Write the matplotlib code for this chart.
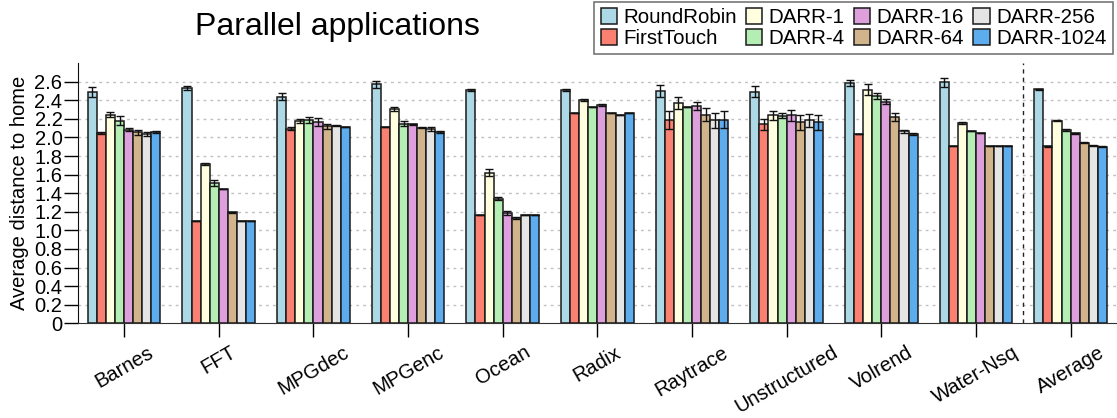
import matplotlib
matplotlib.use("Agg")
import matplotlib.pyplot as plt
import numpy as np

plt.rcParams['font.family'] = ['Liberation Sans', 'DejaVu Sans']

apps = ["Barnes", "FFT", "MPGdec", "MPGenc", "Ocean", "Radix", "Raytrace",
        "Unstructured", "Volrend", "Water-Nsq", "Average"]
policies = ["RoundRobin", "FirstTouch", "DARR-1", "DARR-4",
            "DARR-16", "DARR-64", "DARR-256", "DARR-1024"]
colors = ["#ADD8E6", "#FA8072", "#FFFFE0", "#B4EEB4",
          "#DDA0DD", "#D2B48C", "#E5E5E5", "#5CACEE"]

round_robin = [2.49, 2.53, 2.44, 2.57, 2.51, 2.51, 2.50, 2.49, 2.585, 2.595, 2.52]
first_touch = [2.05, 1.10, 2.095, 2.11, 1.167, 2.26, 2.19, 2.14, 2.04, 1.91, 1.905]
darr_1      = [2.245, 1.715, 2.18, 2.31, 1.62, 2.40, 2.37, 2.24, 2.515, 2.16, 2.18]
darr_4      = [2.18, 1.51, 2.19, 2.15, 1.34, 2.33, 2.325, 2.235, 2.445, 2.07, 2.08]
darr_16     = [2.085, 1.45, 2.165, 2.14, 1.19, 2.35, 2.34, 2.24, 2.385, 2.045, 2.045]
darr_64     = [2.055, 1.195, 2.12, 2.105, 1.13, 2.26, 2.245, 2.165, 2.22, 1.91, 1.945]
darr_256    = [2.04, 1.10, 2.125, 2.09, 1.17, 2.245, 2.185, 2.185, 2.065, 1.91, 1.91]
darr_1024   = [2.055, 1.10, 2.11, 2.06, 1.165, 2.26, 2.19, 2.165, 2.04, 1.91, 1.90]

err_round_robin = [0.05, 0.02, 0.04, 0.04, 0.015, 0.01, 0.06, 0.06, 0.03, 0.05, 0.006]
err_first_touch = [0.01, 0.0, 0.02, 0.0, 0.0, 0.0, 0.10, 0.06, 0.0, 0.0, 0.006]
err_darr_1      = [0.03, 0.01, 0.02, 0.02, 0.04, 0.01, 0.06, 0.05, 0.06, 0.01, 0.006]
err_darr_4      = [0.05, 0.03, 0.03, 0.03, 0.015, 0.0, 0.0, 0.03, 0.03, 0.0, 0.006]
err_darr_16     = [0.015, 0.0, 0.04, 0.01, 0.02, 0.01, 0.045, 0.06, 0.03, 0.0, 0.006]
err_darr_64     = [0.03, 0.005, 0.03, 0.005, 0.01, 0.0, 0.07, 0.08, 0.04, 0.0, 0.006]
err_darr_256    = [0.02, 0.0, 0.005, 0.02, 0.0, 0.0, 0.08, 0.07, 0.02, 0.0, 0.006]
err_darr_1024   = [0.01, 0.0, 0.0, 0.01, 0.0, 0.0, 0.09, 0.08, 0.01, 0.0, 0.006]

series = [round_robin, first_touch, darr_1, darr_4,
          darr_16, darr_64, darr_256, darr_1024]
errors = [err_round_robin, err_first_touch, err_darr_1, err_darr_4,
          err_darr_16, err_darr_64, err_darr_256, err_darr_1024]

yticks = [0, 0.2, 0.4, 0.6, 0.8, 1.0, 1.2, 1.4, 1.6, 1.8, 2.0, 2.2, 2.4, 2.6]
ytick_labels = ["0"] + ["%.1f" % v for v in yticks[1:]]

fig = plt.figure(figsize=(11.17, 4.18), dpi=100)
ax = fig.add_axes([0.0696, 0.2266, 0.9304, 0.6224])

x = np.arange(len(apps))
width = 0.096
n = len(series)
for i, (vals, errs, col, name) in enumerate(zip(series, errors, colors, policies)):
    offs = (i - (n - 1) / 2) * width
    ax.bar(x + offs, vals, width, color=col, edgecolor="#1a1a1a",
           linewidth=1.1, label=name, zorder=3)
    ax.errorbar(x + offs, vals, yerr=errs, fmt="none", ecolor="#111111",
                elinewidth=1.0, capsize=3, capthick=1.0, zorder=4)

ax.set_xlim(-0.49, len(apps) - 0.51)
ax.set_ylim(0, 2.8)
ax.set_yticks(yticks)
ax.set_yticklabels(ytick_labels, fontsize=14.5)
ax.set_xticks(x)
ax.set_xticklabels(apps, fontsize=14.5, rotation=30, ha="center")

for yv in yticks[1:]:
    ax.axhline(yv, color="#c0c0c0", linewidth=1.0, linestyle=(0, (2, 3)), zorder=1)

ax.axvline(len(apps) - 1.5, color="#222222", linewidth=1.0,
           linestyle=(0, (3, 3)), zorder=2)

ax.spines["top"].set_visible(False)
ax.spines["right"].set_visible(False)
ax.spines["left"].set_color("#111111")
ax.spines["bottom"].set_color("#333333")
ax.tick_params(axis="y", direction="out", length=10, pad=1, width=1)
ax.tick_params(axis="x", direction="out", length=10, pad=4, width=1)

ax.set_ylabel("Average distance to home", fontsize=14.5, labelpad=4)

fig.text(0.302, 0.935, "Parallel applications", fontsize=23, ha="center", va="center")

leg = fig.legend(loc="upper right", bbox_to_anchor=(0.996, 0.995), ncol=4,
                 fontsize=14.8, frameon=True, fancybox=False, edgecolor="#555555",
                 handlelength=0.8, handleheight=0.8, handletextpad=0.3,
                 columnspacing=0.45, labelspacing=0.1, borderpad=0.3,
                 borderaxespad=0.0)
leg.get_frame().set_linewidth(1.2)

fig.savefig("out.png", dpi=100)
